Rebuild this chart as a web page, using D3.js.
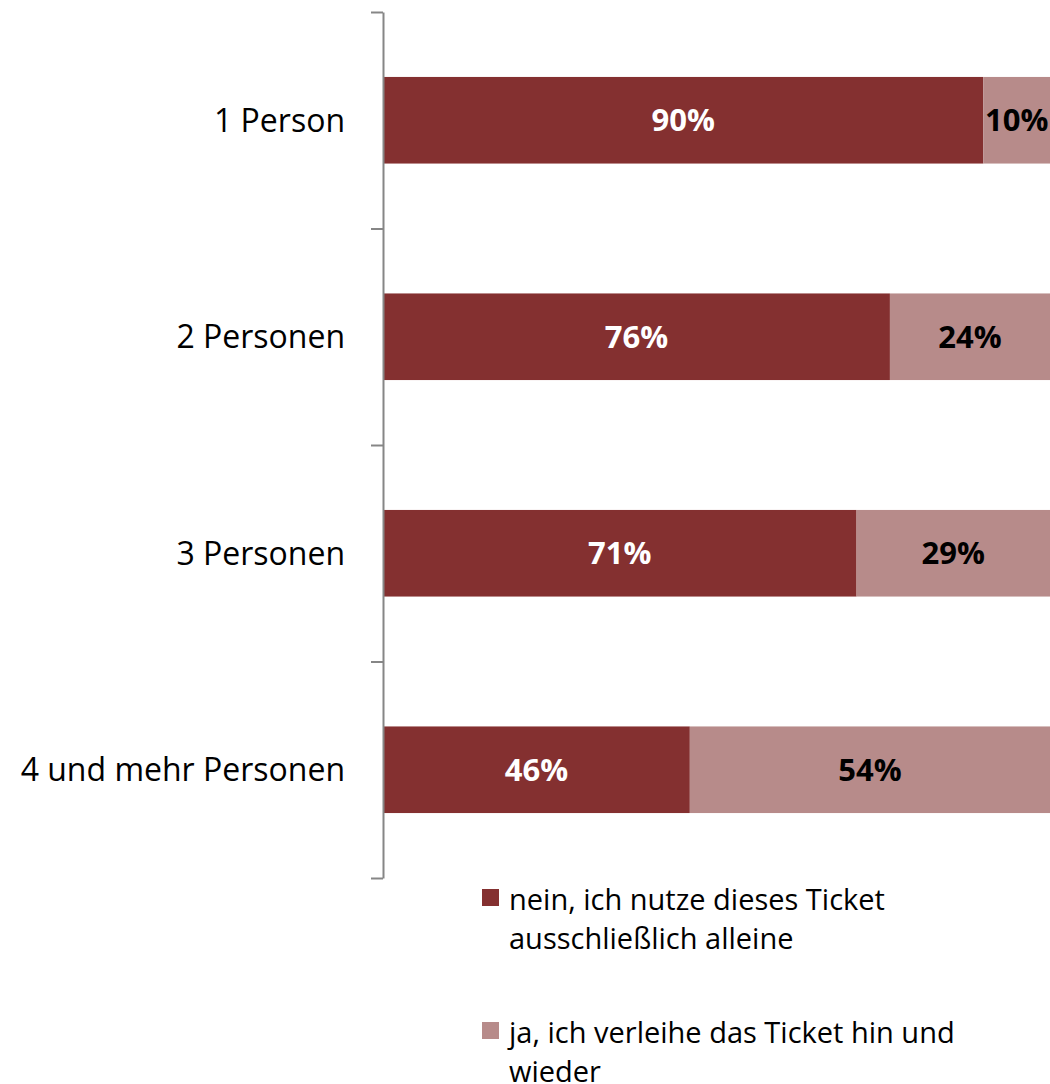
<!DOCTYPE html>
<html>
<head>
<meta charset="utf-8">
<script src="https://cdn.jsdelivr.net/npm/d3@7"></script>
<style>
  body { margin: 0; background: #fff; }
  svg { display: block; }
  text { font-family: "Open Sans", Lato, sans-serif; }
</style>
</head>
<body>
<svg id="chart" width="1050" height="1084"></svg>
<script>
const categories = ["1 Person", "2 Personen", "3 Personen", "4 und mehr Personen"];
const seriesNames = ["nein, ich nutze dieses Ticket ausschließlich alleine", "ja, ich verleihe das Ticket hin und wieder"];
const alleine = [90, 76, 71, 46];
const verleihen = [10, 24, 29, 54];
const colors = ["#843030", "#b78b8a"];
const labelColors = ["#ffffff", "#000000"];

const legendLines = [
  ["nein, ich nutze dieses Ticket", "ausschließlich alleine"],
  ["ja, ich verleihe das Ticket hin und", "wieder"]
];

const svg = d3.select("#chart");
const plot = { left: 383, right: 1050, top: 12, bottom: 878 };

const x = d3.scaleLinear().domain([0, 100]).range([plot.left, plot.right]);
const y = d3.scaleBand().domain(categories).range([plot.top, plot.bottom])
  .paddingInner(0.6).paddingOuter(0.3);
const yEdge = d3.scaleLinear().domain([0, categories.length]).range([plot.top, plot.bottom]);

const rows = categories.map((c, i) => {
  const vals = [alleine[i], verleihen[i]];
  let acc = 0;
  return { cat: c, segs: vals.map((v, k) => { const s = { v, k, x0: acc, x1: acc + v }; acc += v; return s; }) };
});

const g = svg.append("g");
const row = g.selectAll("g.row").data(rows).join("g").attr("class", "row");
row.selectAll("rect").data(d => d.segs.map(s => ({ ...s, cat: d.cat }))).join("rect")
  .attr("x", d => x(d.x0))
  .attr("width", d => x(d.x1) - x(d.x0))
  .attr("y", d => y(d.cat))
  .attr("height", y.bandwidth())
  .attr("fill", d => colors[d.k]);

row.selectAll("text.val").data(d => d.segs.map(s => ({ ...s, cat: d.cat }))).join("text")
  .attr("class", "val")
  .attr("x", d => (x(d.x0) + x(d.x1)) / 2)
  .attr("y", d => y(d.cat) + y.bandwidth() / 2)
  .attr("dy", "0.36em")
  .attr("text-anchor", "middle")
  .attr("font-size", 31)
  .attr("font-weight", "bold")
  .attr("fill", d => labelColors[d.k])
  .text(d => d.v + "%");

// vertical axis with ticks at category boundaries
const axis = svg.append("g")
  .attr("transform", `translate(${plot.left},0)`)
  .call(d3.axisLeft(yEdge).tickValues(d3.range(categories.length + 1)).tickSize(12).tickSizeOuter(0).tickFormat(""));
axis.select(".domain").attr("stroke", "#868686").attr("stroke-width", 2);
axis.selectAll(".tick line").attr("stroke", "#868686").attr("stroke-width", 2);

svg.append("g").selectAll("text").data(categories).join("text")
  .attr("x", 345)
  .attr("y", d => y(d) + y.bandwidth() / 2)
  .attr("dy", "0.36em")
  .attr("text-anchor", "end")
  .attr("font-size", 32)
  .attr("fill", "#000")
  .text(d => d);

// legend
const legend = svg.append("g");
const legendTop = [889, 1022];
seriesNames.forEach((name, i) => {
  const lg = legend.append("g").attr("transform", `translate(482,${legendTop[i]})`);
  lg.append("rect").attr("width", 17).attr("height", 17).attr("fill", colors[i]);
  const t = lg.append("text").attr("x", 27).attr("y", 21).attr("font-size", 29).attr("fill", "#000");
  legendLines[i].forEach((ln, j) => t.append("tspan").attr("x", 27).attr("dy", j ? 39 : 0).text(ln));
});
</script>
</body>
</html>
